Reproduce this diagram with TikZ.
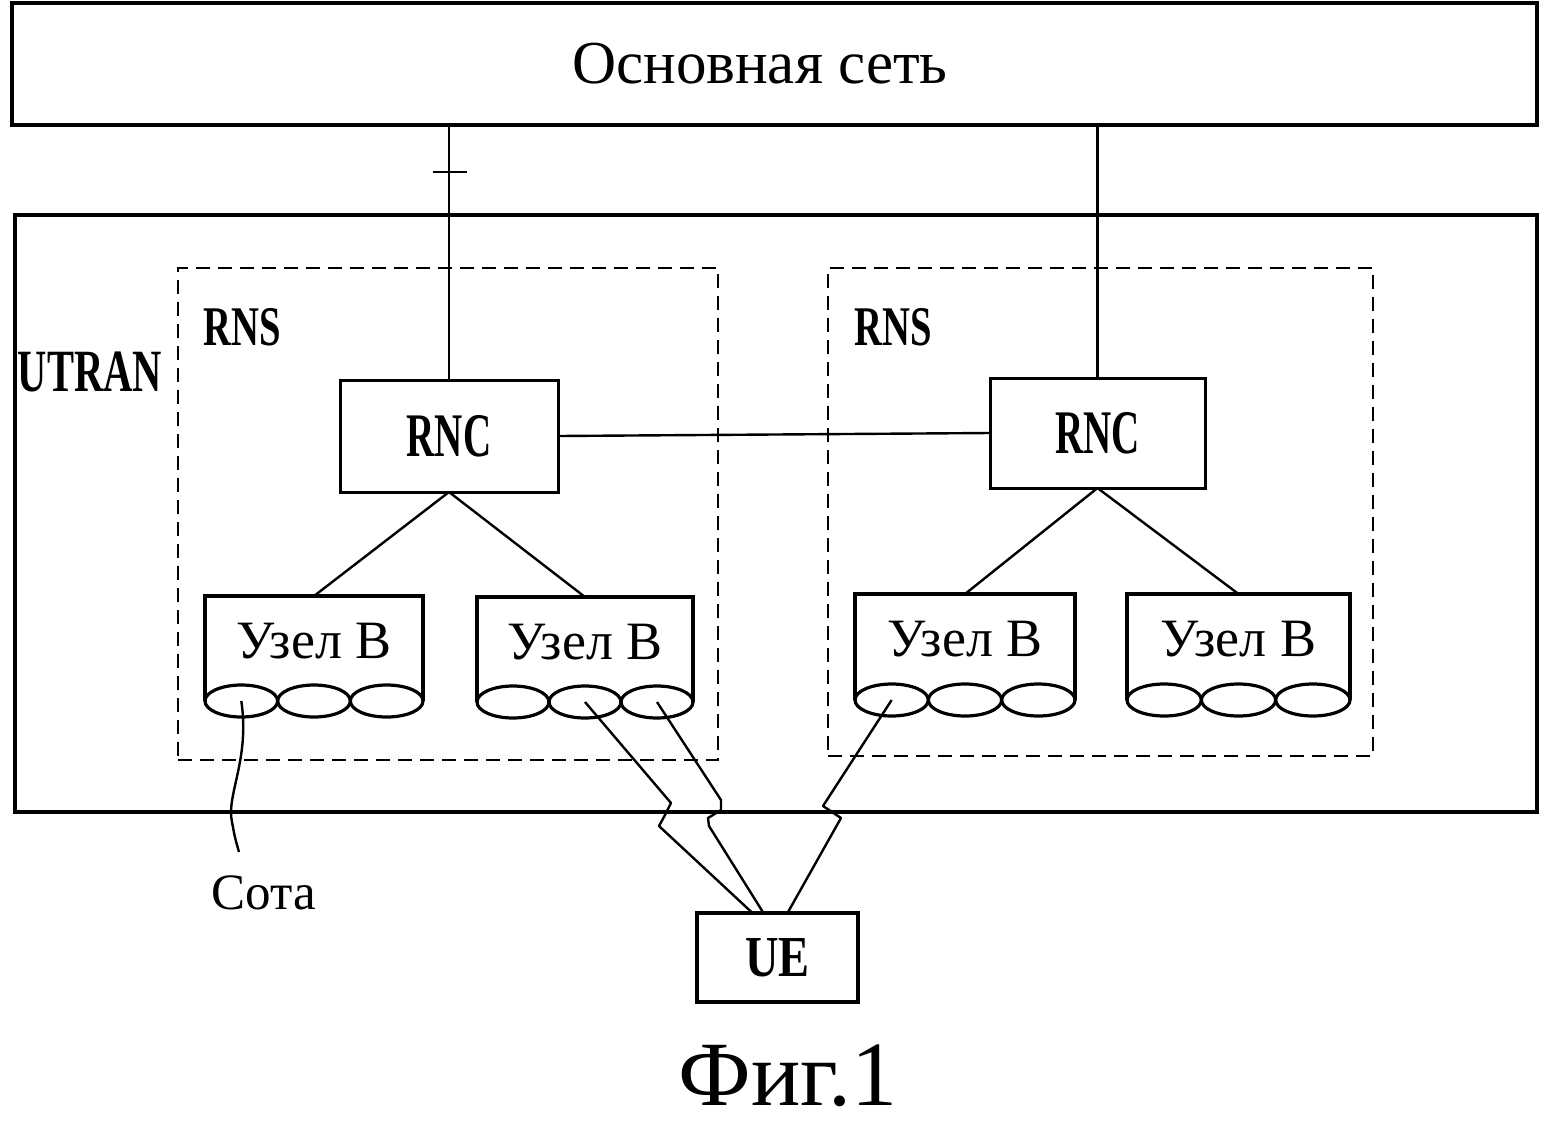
\documentclass[tikz,border=0pt]{standalone}
\usepackage{fontspec}
\setmainfont{Liberation Serif}
\usepackage{graphicx}
\newcommand\cnd[2]{\scalebox{#1}[1]{#2}}
\newcommand\nodebx[6]{%
  \pgfmathsetmacro\nbw{(#3-#2)/3}%
  \pgfmathsetmacro\nbrx{\nbw/4}%
  \node[nbtext] (#1) at ({(#2+#3)/2}, {#4+45}) {#6};
  \coordinate (#1t) at ({(#2+#3)/2}, #4);
  \coordinate (#1e1) at ({#2+0.5*\nbw}, #5);
  \coordinate (#1e2) at ({#2+1.5*\nbw}, #5);
  \coordinate (#1e3) at ({#2+2.5*\nbw}, #5);
  \draw[nbline] (#2,#5) -- (#2,#4) -- (#3,#4) -- (#3,#5);
  \draw[nbline] (#1e1) ellipse [x radius=\nbrx pt, y radius=8pt];
  \draw[nbline] (#1e2) ellipse [x radius=\nbrx pt, y radius=8pt];
  \draw[nbline] (#1e3) ellipse [x radius=\nbrx pt, y radius=8pt];
}
\begin{document}
\begin{tikzpicture}[x=0.5pt,y=-0.5pt]
\tikzset{
  bigbox/.style={draw, line width=2.2pt, inner sep=0pt, outer sep=0pt},
  rncbox/.style={draw, line width=1.5pt, inner sep=0pt, outer sep=0pt},
  rnsbox/.style={draw, line width=1.4pt, dash pattern=on 7pt off 4pt, inner sep=0pt},
  nbline/.style={line width=1.6pt},
  wire/.style={line width=1.2pt, line join=round},
  nbtext/.style={font=\fontsize{27}{29}\selectfont, inner sep=0pt},
  lbl/.style={inner sep=0pt, font=\bfseries},
}
\useasboundingbox (0,0) rectangle (1554,1126);
\fill[white] (0,0) rectangle (1554,1126);

% core network
\node[bigbox, minimum width=762.5pt, minimum height=61pt] (core) at (774.5,64) {};
\node[inner sep=0pt, font=\fontsize{30.5}{32}\selectfont] (coretext) at (760,64) {Основная сеть};

% UTRAN
\node[bigbox, minimum width=761pt, minimum height=298.5pt] (utran) at (776,513.5) {};
\node[lbl, font=\bfseries\fontsize{30}{32}\selectfont] (utranlbl) at (90,372) {\cnd{0.675}{UTRAN}};

% RNS boxes
\node[rnsbox, minimum width=270pt, minimum height=246pt] (rns1) at (448,514) {};
\node[rnsbox, minimum width=272.5pt, minimum height=244pt] (rns2) at (1100.5,512) {};
\node[lbl, font=\bfseries\fontsize{28}{30}\selectfont] (rns1lbl) at (242,327) {\cnd{0.69}{RNS}};
\node[lbl, font=\bfseries\fontsize{28}{30}\selectfont] (rns2lbl) at (893,327) {\cnd{0.69}{RNS}};

% RNCs
\node[rncbox, minimum width=109pt, minimum height=56pt, font=\bfseries\fontsize{31}{33}\selectfont] (rnc1) at (449,436) {\cnd{0.63}{RNC}};
\node[rncbox, minimum width=107.5pt, minimum height=55pt, font=\bfseries\fontsize{31}{33}\selectfont] (rnc2) at (1097.5,433) {\cnd{0.63}{RNC}};

% links to core
\draw[wire] (rnc1.north) -- (rnc1.north |- core.south);
\coordinate (tick) at (450,172);
\draw[wire] ([xshift=-8.5pt]tick) -- ([xshift=8.5pt]tick);
\draw[wire] (rnc2.north) -- (rnc2.north |- core.south);
\draw[wire] (rnc1.east) -- (rnc2.west);

% Node B
\nodebx{b1}{205}{423}{596}{701}{Узел В}
\nodebx{b2}{477}{693}{597}{702}{Узел В}
\nodebx{b3}{855}{1075}{594}{700}{Узел В}
\nodebx{b4}{1127}{1350}{594}{700}{Узел В}

\draw[wire] (rnc1.south) -- (b1t);
\draw[wire] (rnc1.south) -- (b2t);
\draw[wire] (rnc2.south) -- (b3t);
\draw[wire] (rnc2.south) -- (b4t);

% cell label
\node[inner sep=0pt, font=\fontsize{25.5}{27}\selectfont] (sota) at (264,893) {Сота};
\coordinate (sotaend) at (239,852);
\draw[wire] (b1e1) .. controls (250,760) and (226,795) .. (232,822) .. controls (235,838) .. (sotaend);

% UE
\node[rncbox, line width=2pt, minimum width=80.5pt, minimum height=44.5pt, font=\bfseries\fontsize{29}{31}\selectfont] (ue) at (777.5,957.5) {\cnd{0.8}{UE}};

\draw[wire] (b2e2) -- (671,803) -- (665,815) -- (659,826) -- ([xshift=-12.5pt]ue.north);
\draw[wire] (b2e3) -- (721,800) -- (721,810) -- (708,818) -- (709,826) -- ([xshift=-7pt]ue.north);
\draw[wire] (b3e1) -- (823,806) -- (841,818) -- ([xshift=5pt]ue.north);

% caption
\node[inner sep=0pt, font=\fontsize{46}{48}\selectfont] (fig) at (788,1076) {Фиг.1};
\end{tikzpicture}
\end{document}
